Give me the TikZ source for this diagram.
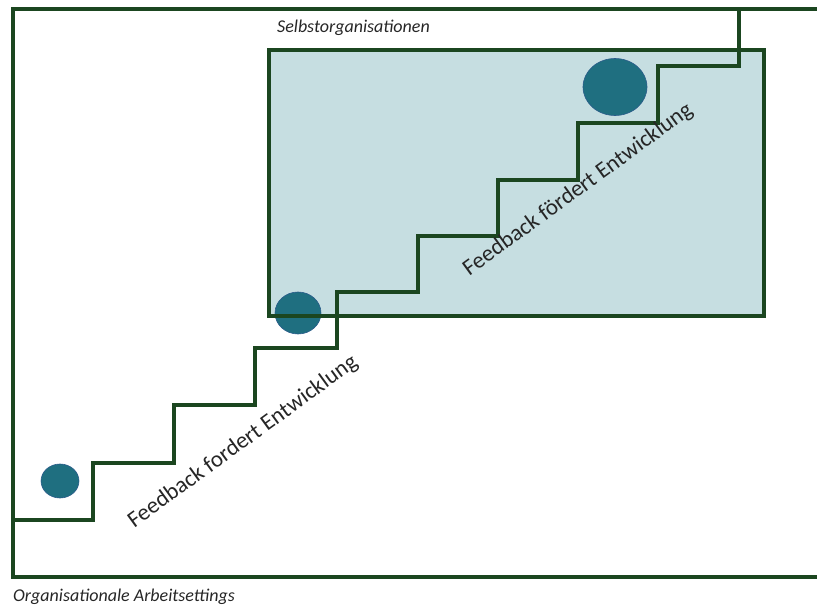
\documentclass[tikz,border=0pt]{standalone}
\usepackage{fontspec}
\setmainfont{Carlito}
\usetikzlibrary{shapes.geometric}
\definecolor{framegreen}{HTML}{1B4620}
\definecolor{zonefill}{HTML}{C6DEE1}
\definecolor{balltone}{HTML}{1F6F80}
\definecolor{ballrim}{HTML}{2A5B8A}
\definecolor{labelgray}{HTML}{262626}
\tikzset{
  framestyle/.style={draw=framegreen, line width=3.2pt},
  stairstyle/.style={draw=framegreen, line width=3.2pt, line join=miter},
  ball/.style={ellipse, fill=balltone, draw=ballrim, line width=0.6pt, inner sep=0pt},
  caption/.style={font=\itshape\fontsize{18}{21}\selectfont, text=labelgray, inner sep=0pt},
  steplabel/.style={font=\fontsize{23}{26}\selectfont, text=labelgray, rotate=36, inner sep=0pt}
}
\begin{document}
\begin{tikzpicture}[x=1pt,y=-1pt]
\useasboundingbox (0,0) rectangle (817,607);
% inner zone: fill first, border after the ball that sits on its edge
\fill[zonefill] (269,50) rectangle (764,316);
% balls on the steps
\node[ball, minimum width=38pt, minimum height=34pt] (b1) at (60,481) {};
\node[ball, minimum width=46pt, minimum height=42pt] (b2) at (298,313) {};
\node[ball, minimum width=64pt, minimum height=57pt] (b3) at (615,87) {};
\draw[framestyle] (269,50) rectangle (764,316);
% outer frame, open to the right
\draw[framestyle] (817,9) -- (13,9) -- (13,577) -- (817,577);
% staircase
\draw[stairstyle] (13,520) -- (93,520) |- (174,463) |- (255,405) |- (337,348)
  |- (418,292) |- (498,236) |- (578,180) |- (658,123) |- (739,66) -- (739,9);
% texts
\node[caption, anchor=west] (selbst) at (277,28) {Selbstorganisationen};
\node[caption, anchor=west] (orga) at (13,597) {Organisationale Arbeitsettings};
\node[steplabel] (fb1) at (243,442) {Feedback fordert Entwicklung};
\node[steplabel] (fb2) at (578,190) {Feedback fördert Entwicklung};
\end{tikzpicture}
\end{document}
